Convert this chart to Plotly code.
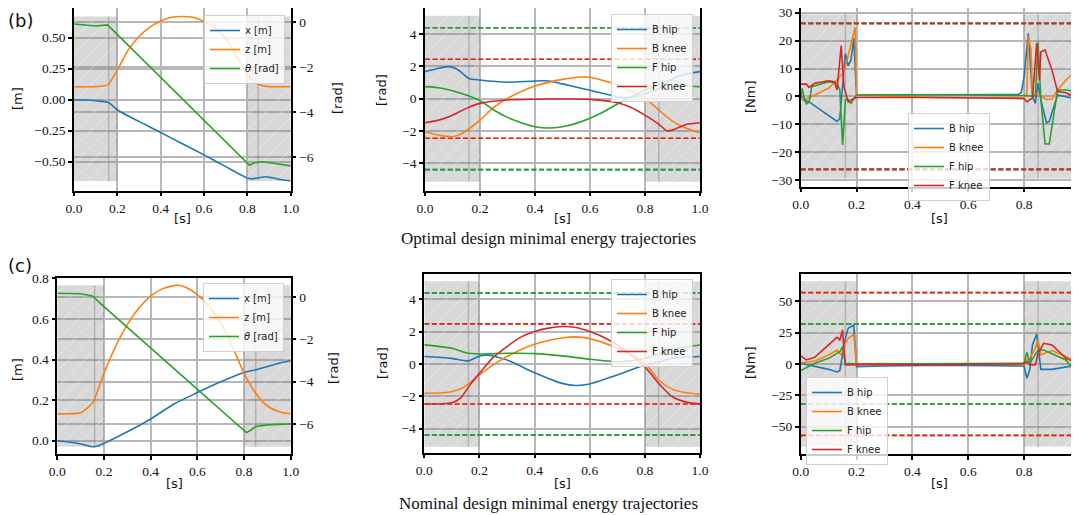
import plotly.graph_objects as go

# page is drawn with the browser's default 8px body margin -> figure is 8px smaller
OFF = 8
W, H = 1079 - OFF, 515 - OFF
BLUE, ORANGE, GREEN, RED = "#1f77b4", "#ff7f0e", "#2ca02c", "#d62728"

# ---------------- data ----------------
# contact phases (stance spans) and inner phase edges
stance_spans = [[0.0, 0.2], [0.8, 1.0]]
stance_edges = [0.16, 0.85]

# (b) optimal design - base trajectory
b_x_t = [0, 0.05, 0.1, 0.16, 0.2, 0.3, 0.4, 0.5, 0.6, 0.7, 0.8, 0.82, 0.85, 0.88, 0.92, 0.96, 1.0]
b_x_v = [0, -0.002, -0.008, -0.024, -0.083, -0.175, -0.265, -0.355, -0.445, -0.54, -0.632, -0.638, -0.632, -0.622, -0.632, -0.646, -0.656]
b_z_t = [0, 0.05, 0.1, 0.155, 0.18, 0.2, 0.25, 0.3, 0.35, 0.4, 0.45, 0.5, 0.55, 0.6, 0.65, 0.7, 0.75, 0.8, 0.85, 0.9, 0.95, 1.0]
b_z_v = [0.105, 0.104, 0.106, 0.12, 0.18, 0.24, 0.40, 0.51, 0.585, 0.635, 0.665, 0.672, 0.665, 0.63, 0.58, 0.50, 0.35, 0.20, 0.125, 0.105, 0.105, 0.105]
b_th_t = [0, 0.05, 0.1, 0.155, 0.2, 0.4, 0.6, 0.8, 0.81, 0.83, 0.87, 0.92, 1.0]
b_th_v = [-0.09, -0.15, -0.18, -0.13, -0.56, -2.46, -4.36, -6.25, -6.35, -6.25, -6.2, -6.26, -6.38]

# (b) joint angles
b_ang_bhip_t = [0, 0.05, 0.09, 0.12, 0.16, 0.2, 0.3, 0.4, 0.45, 0.5, 0.6, 0.7, 0.73, 0.78, 0.85, 0.9, 0.95, 1.0]
b_ang_bhip_v = [1.68, 1.89, 1.99, 1.8, 1.26, 1.16, 1.02, 1.1, 1.1, 0.92, 0.52, 0.12, 0.06, 0.19, 0.64, 1.22, 1.53, 1.68]
b_ang_bknee_t = [0, 0.05, 0.1, 0.13, 0.17, 0.2, 0.25, 0.3, 0.4, 0.5, 0.57, 0.6, 0.7, 0.8, 0.85, 0.9, 0.95, 1.0]
b_ang_bknee_v = [-2.05, -2.26, -2.36, -2.2, -1.74, -1.33, -0.54, 0.02, 0.79, 1.2, 1.35, 1.33, 0.85, 0.02, -0.7, -1.39, -1.84, -2.11]
b_ang_fhip_t = [0, 0.05, 0.1, 0.15, 0.2, 0.25, 0.3, 0.35, 0.4, 0.45, 0.5, 0.55, 0.6, 0.65, 0.7, 0.75, 0.8, 0.85, 0.88, 0.9, 0.95, 1.0]
b_ang_fhip_v = [0.75, 0.68, 0.5, 0.23, -0.12, -0.7, -1.16, -1.49, -1.74, -1.82, -1.74, -1.53, -1.22, -0.81, -0.33, 0.12, 0.54, 0.85, 1.12, 1.16, 0.82, 0.75]
b_ang_fknee_t = [0, 0.05, 0.1, 0.15, 0.2, 0.3, 0.4, 0.5, 0.6, 0.7, 0.75, 0.8, 0.85, 0.88, 0.9, 0.95, 1.0]
b_ang_fknee_v = [-1.49, -1.33, -1.02, -0.6, -0.29, -0.08, -0.03, -0.02, -0.04, -0.25, -0.54, -1.02, -1.58, -1.99, -1.95, -1.6, -1.49]
b_ang_limits = [4.4, 2.45, 4.4, 2.45]          # B hip, B knee, F hip, F knee
b_ang_shade = 5.15

# (b) joint torques
b_tau_bhip_t = [0, 0.01, 0.03, 0.13, 0.14, 0.16, 0.17, 0.18, 0.19, 0.2, 0.3, 0.5, 0.7, 0.78, 0.79, 0.8, 0.815, 0.83, 0.84, 0.85, 0.86, 0.88, 0.89, 0.92, 0.95, 0.99, 0.993]
b_tau_bhip_v = [0.5, -1.3, -2, -9, -8, 15.4, 11, 13, 20.8, 0.5, 0.6, 0.7, 0.7, 0.7, 1.4, 7, 22.6, 0, -2.5, 4.7, -1.3, -9.4, -9, 0.5, -0.1, -1.1, 0.5]
b_tau_bknee_t = [0, 0.02, 0.05, 0.1, 0.13, 0.15, 0.16, 0.175, 0.19, 0.195, 0.2, 0.5, 0.8, 0.81, 0.815, 0.825, 0.83, 0.845, 0.86, 0.88, 0.9, 0.92, 0.95, 0.99, 0.993]
b_tau_bknee_v = [-0.7, -1, 0.5, 2.9, 5.9, 8.2, 10.6, 16.6, 23.2, 24.7, 0.5, -0.5, -0.5, 1, 21.6, 16.6, -0.1, 1, 0.2, -1.1, -1, 2.3, 5.9, 9.8, 6]
b_tau_fhip_t = [0, 0.005, 0.01, 0.02, 0.03, 0.04, 0.1, 0.13, 0.14, 0.15, 0.16, 0.17, 0.18, 0.19, 0.2, 0.5, 0.8, 0.84, 0.85, 0.86, 0.875, 0.89, 0.92, 0.95, 0.99, 0.993]
b_tau_fhip_v = [-0.1, 2.9, 0.5, -2.7, -2, 3.5, 5.3, 4.7, 2.3, -17.4, -1.3, -1.1, -2.7, -0.7, 0.5, 0.6, 0.3, 0, 19.4, -1, -17.1, -17.1, 2.3, 2.3, 1.7, 2.3]
b_tau_fknee_t = [0, 0.02, 0.03, 0.05, 0.1, 0.12, 0.13, 0.145, 0.15, 0.155, 0.17, 0.18, 0.2, 0.5, 0.8, 0.81, 0.82, 0.83, 0.845, 0.855, 0.86, 0.875, 0.9, 0.92, 0.95, 0.99, 0.993]
b_tau_fknee_v = [4.4, 4.4, 3.2, 4.7, 5.6, 5.3, 2.3, 18.2, 10.6, 3.5, -2, -1.3, -0.4, -0.4, -0.8, -2, -1.2, -0.6, 19, 5.9, 16, 16.6, 9.4, 1.7, 1.3, -0.7, 2]
b_tau_limits = [26.2, 26.2, 26.2, 26.2]
b_tau_shade = 29.5

# (c) nominal design - base trajectory
c_x_t = [0, 0.05, 0.1, 0.16, 0.2, 0.3, 0.4, 0.5, 0.6, 0.7, 0.8, 0.85, 0.9, 0.95, 1.0]
c_x_v = [0, -0.006, -0.016, -0.03, -0.013, 0.044, 0.107, 0.181, 0.237, 0.29, 0.336, 0.349, 0.366, 0.382, 0.394]
c_z_t = [0, 0.05, 0.1, 0.15, 0.2, 0.25, 0.3, 0.35, 0.4, 0.45, 0.5, 0.52, 0.55, 0.6, 0.65, 0.7, 0.75, 0.8, 0.85, 0.9, 0.95, 1.0]
c_z_v = [0.132, 0.133, 0.138, 0.185, 0.333, 0.465, 0.572, 0.654, 0.712, 0.748, 0.764, 0.766, 0.756, 0.72, 0.662, 0.58, 0.465, 0.333, 0.234, 0.171, 0.143, 0.132]
c_th_t = [0, 0.1, 0.15, 0.2, 0.5, 0.81, 0.83, 0.85, 0.9, 1.0]
c_th_v = [0.19, 0.17, 0.06, -0.44, -3.38, -6.41, -6.29, -6.13, -6.05, -6.0]

# (c) joint angles
c_ang_bhip_t = [0, 0.1, 0.16, 0.2, 0.23, 0.3, 0.4, 0.5, 0.55, 0.6, 0.7, 0.8, 0.85, 0.9, 1.0]
c_ang_bhip_v = [0.46, 0.35, 0.19, 0.5, 0.54, 0.25, -0.54, -1.2, -1.33, -1.24, -0.68, -0.06, 0.12, 0.35, 0.46]
c_ang_bknee_t = [0, 0.1, 0.15, 0.2, 0.25, 0.3, 0.4, 0.5, 0.55, 0.6, 0.7, 0.8, 0.85, 0.9, 0.95, 1.0]
c_ang_bknee_v = [-1.82, -1.72, -1.37, -0.68, -0.06, 0.46, 1.22, 1.61, 1.68, 1.57, 0.97, 0.04, -0.99, -1.57, -1.78, -1.86]
c_ang_fhip_t = [0, 0.1, 0.15, 0.2, 0.3, 0.4, 0.5, 0.6, 0.7, 0.75, 0.8, 0.85, 0.9, 1.0]
c_ang_fhip_v = [1.18, 0.97, 0.7, 0.62, 0.66, 0.64, 0.5, 0.29, 0.14, 0.19, 0.35, 0.62, 0.91, 1.18]
c_ang_fknee_t = [0, 0.1, 0.13, 0.17, 0.2, 0.25, 0.3, 0.35, 0.4, 0.45, 0.5, 0.55, 0.6, 0.65, 0.7, 0.75, 0.8, 0.85, 0.9, 0.95, 1.0]
c_ang_fknee_v = [-2.48, -2.4, -2.13, -1.2, -0.58, 0.41, 1.08, 1.66, 2.01, 2.22, 2.32, 2.26, 2.01, 1.66, 1.18, 0.56, -0.17, -1.2, -2.03, -2.36, -2.48]
c_ang_limits = [4.4, 2.48, 4.4, 2.48]
c_ang_shade = 5.12

# (c) joint torques
c_tau_bhip_t = [0, 0.05, 0.1, 0.13, 0.14, 0.16, 0.17, 0.19, 0.2, 0.3, 0.5, 0.8, 0.81, 0.82, 0.83, 0.845, 0.86, 0.9, 0.95, 0.993]
c_tau_bhip_v = [0.5, -1.6, -4.3, -6.4, -5.3, 20.5, 28.5, 31, -2.1, -1.6, -1, -1.6, -11.5, -4.8, 15.2, 24, -4.3, -4.3, -2.7, -0.8]
c_tau_bknee_t = [0, 0.05, 0.1, 0.13, 0.145, 0.16, 0.17, 0.19, 0.2, 0.5, 0.8, 0.81, 0.82, 0.84, 0.85, 0.86, 0.9, 0.95, 0.993]
c_tau_bknee_v = [1, 2.4, 7.2, 11.2, 7.2, 16.5, 20.5, 23.7, 0.5, 0, -0.5, 3.2, 4.5, 12.5, 19.2, 7.2, 10.7, 5.9, 1]
c_tau_fhip_t = [0, 0.05, 0.1, 0.14, 0.15, 0.16, 0.2, 0.5, 0.8, 0.81, 0.82, 0.85, 0.87, 0.95, 0.993]
c_tau_fhip_v = [-5.3, 0.5, 4.5, 9.9, 13.9, 0.5, 0, 0, 0.5, 9.3, 0.5, 11.2, 11.2, 3.2, -9.6]
c_tau_fknee_t = [0, 0.02, 0.05, 0.1, 0.13, 0.14, 0.15, 0.155, 0.16, 0.2, 0.5, 0.8, 0.81, 0.82, 0.84, 0.85, 0.87, 0.9, 0.95, 0.97, 0.993]
c_tau_fknee_v = [6.4, 3.2, 5.3, 15.2, 21.3, 19.2, 27.2, 10, -0.8, -0.5, -0.5, 0.2, 1.9, -0.8, -0.8, 8.5, 16.5, 15.2, 4.5, 2.7, 7.2]
c_tau_limits = [32, 57, 32, 57]
c_tau_shade = 66

joint_names = ["B hip", "B knee", "F hip", "F knee"]
joint_colors = [BLUE, ORANGE, GREEN, RED]

# ---------------- figure ----------------
fig = go.Figure()
LW = 1.6


def shading(xa, ya, lo, hi):
    for a, b in stance_spans:
        fig.add_trace(go.Scatter(
            x=[a, b, b, a, a], y=[lo, lo, hi, hi, lo], mode="lines", fill="toself",
            fillpattern=dict(shape="/", bgcolor="rgba(128,128,128,0.30)", fgcolor="#ffffff",
                             fgopacity=0.45, size=11, solidity=0.08),
            line=dict(width=0), xaxis=xa, yaxis=ya, showlegend=False, hoverinfo="skip"))
    for e in stance_edges:
        fig.add_trace(go.Scatter(x=[e, e], y=[lo, hi], mode="lines",
                                 line=dict(color="rgba(110,110,110,0.35)", width=1.5),
                                 xaxis=xa, yaxis=ya, showlegend=False, hoverinfo="skip"))


def limits(xa, ya, lims):
    for lim, col in zip(lims, joint_colors):
        for s in (1, -1):
            fig.add_trace(go.Scatter(x=[0, 1], y=[s * lim, s * lim], mode="lines",
                                     line=dict(color=col, width=LW, dash="5px,2.6px"),
                                     xaxis=xa, yaxis=ya, showlegend=False, hoverinfo="skip"))


def series(xa, ya, t, v, name, col, leg, shape="linear"):
    fig.add_trace(go.Scatter(x=t, y=v, mode="lines", name=name,
                             line=dict(color=col, width=LW, shape=shape, smoothing=0.7),
                             xaxis=xa, yaxis=ya, legend=leg))


# panel (b) base
lo_b = min(b_x_v + b_z_v)
hi_b = max(b_x_v + b_z_v)
shading("x", "y", lo_b, hi_b)
series("x", "y", b_x_t, b_x_v, "x [m]", BLUE, "legend", "spline")
series("x", "y", b_z_t, b_z_v, "z [m]", ORANGE, "legend", "spline")
series("x", "y2", b_th_t, b_th_v, "<i>θ</i> [rad]", GREEN, "legend")

# panel (b) angles
shading("x2", "y3", -b_ang_shade, b_ang_shade)
limits("x2", "y3", b_ang_limits)
for (t, v), n, c in zip([(b_ang_bhip_t, b_ang_bhip_v), (b_ang_bknee_t, b_ang_bknee_v),
                         (b_ang_fhip_t, b_ang_fhip_v), (b_ang_fknee_t, b_ang_fknee_v)],
                        joint_names, joint_colors):
    series("x2", "y3", t, v, n, c, "legend2", "spline")

# panel (b) torques
shading("x3", "y4", -b_tau_shade, b_tau_shade)
limits("x3", "y4", b_tau_limits)
for (t, v), n, c in zip([(b_tau_bhip_t, b_tau_bhip_v), (b_tau_bknee_t, b_tau_bknee_v),
                         (b_tau_fhip_t, b_tau_fhip_v), (b_tau_fknee_t, b_tau_fknee_v)],
                        joint_names, joint_colors):
    series("x3", "y4", t, v, n, c, "legend3")

# panel (c) base
lo_c = min(c_x_v + c_z_v)
hi_c = max(c_x_v + c_z_v)
shading("x4", "y5", lo_c, hi_c)
series("x4", "y5", c_x_t, c_x_v, "x [m]", BLUE, "legend4", "spline")
series("x4", "y5", c_z_t, c_z_v, "z [m]", ORANGE, "legend4", "spline")
series("x4", "y6", c_th_t, c_th_v, "<i>θ</i> [rad]", GREEN, "legend4")

# panel (c) angles
shading("x5", "y7", -c_ang_shade, c_ang_shade)
limits("x5", "y7", c_ang_limits)
for (t, v), n, c in zip([(c_ang_bhip_t, c_ang_bhip_v), (c_ang_bknee_t, c_ang_bknee_v),
                         (c_ang_fhip_t, c_ang_fhip_v), (c_ang_fknee_t, c_ang_fknee_v)],
                        joint_names, joint_colors):
    series("x5", "y7", t, v, n, c, "legend5", "spline")

# panel (c) torques
shading("x6", "y8", -c_tau_shade, c_tau_shade)
limits("x6", "y8", c_tau_limits)
for (t, v), n, c in zip([(c_tau_bhip_t, c_tau_bhip_v), (c_tau_bknee_t, c_tau_bknee_v),
                         (c_tau_fhip_t, c_tau_fhip_v), (c_tau_fknee_t, c_tau_fknee_v)],
                        joint_names, joint_colors):
    series("x6", "y8", t, v, n, c, "legend6")

# ---------------- layout ----------------
TICKFONT = dict(family="Liberation Serif", size=13.5, color="#111")
GRID = "#b8b8b8"


def clamp(v):
    return max(0.0, min(1.0, v))


def fx(px):
    return (px - OFF) / W


def fy(py):
    return 1 - (py - OFF) / H


def xax(px0, px1, anchor, rng):
    return dict(domain=[clamp(fx(px0)), clamp(fx(px1))], anchor=anchor, range=rng, tick0=0, dtick=0.2,
                tickformat=".1f", showline=True, linecolor="black", linewidth=1.5, mirror=True,
                ticks="outside", ticklen=4, tickwidth=1.5, tickcolor="black", automargin=False,
                ticklabeloverflow="allow",
                showgrid=True, gridcolor=GRID, gridwidth=1.5, zeroline=False, tickfont=TICKFONT)


def yax(py0, py1, anchor, rng, dtick, fmt, side="left", overlaying=None, mirror=True):
    d = dict(domain=[clamp(fy(py1)), clamp(fy(py0))], anchor=anchor, range=rng, tick0=0, dtick=dtick,
             tickformat=fmt, showline=True, linecolor="black", linewidth=1.5, mirror=mirror,
             ticks="outside", ticklen=4, tickwidth=1.5, tickcolor="black", side=side,
             automargin=False, ticklabeloverflow="allow",
             showgrid=True, gridcolor=GRID, gridwidth=1.5, zeroline=False, tickfont=TICKFONT)
    if overlaying:
        d["overlaying"] = overlaying
    return d


def legend(px, py, anchor):
    return dict(x=fx(px), y=fy(py), xanchor=anchor, yanchor="top",
                bgcolor="rgba(255,255,255,0.8)", bordercolor="#d0d0d0", borderwidth=1,
                font=dict(family="DejaVu Sans", size=10, color="#222"), itemwidth=30,
                tracegroupgap=0)


fig.update_layout(
    width=W, height=H, margin=dict(l=0, r=0, t=0, b=0, autoexpand=False),
    paper_bgcolor="white", plot_bgcolor="rgba(0,0,0,0)",
    xaxis=xax(74, 290.7, "y", [0, 1]),
    yaxis=yax(8, 190.7, "x", [-0.734, 0.74], 0.25, ".2f"),
    yaxis2=yax(8, 190.7, "x", [-7.48, 0.62], 2, "d", side="right", overlaying="y", mirror=False),
    xaxis2=xax(425, 700, "y3", [0, 1]),
    yaxis3=yax(8, 190.7, "x2", [-5.71, 5.63], 2, "d"),
    xaxis3=xax(800.7, 1078, "y4", [0, 0.993]),
    yaxis4=yax(8.3, 186.7, "x3", [-32.4, 31.6], 10, "d"),
    xaxis4=xax(57.3, 290.7, "y5", [0, 1]),
    yaxis5=yax(278.3, 454, "x4", [-0.0655, 0.8], 0.2, ".1f"),
    yaxis6=yax(278.3, 454, "x4", [-7.43, 0.9], 2, "d", side="right", overlaying="y5", mirror=False),
    xaxis5=xax(424.3, 700, "y7", [0, 1]),
    yaxis7=yax(274.3, 452.7, "x5", [-5.49, 5.55], 2, "d"),
    xaxis6=xax(800.7, 1078, "y8", [0, 0.993]),
    yaxis8=yax(274.3, 454, "x6", [-71.9, 71.6], 25, "d"),
    legend=legend(285, 15, "right"),
    legend2=legend(693, 14, "right"),
    legend3=legend(908, 113, "left"),
    legend4=legend(284, 283, "right"),
    legend5=legend(693, 279, "right"),
    legend6=legend(806, 377, "left"),
)

SANS = dict(family="DejaVu Sans", size=13, color="#111")
ann = []


def label(text, px, py, angle=0, font=SANS):
    ann.append(dict(text=text, x=fx(px), y=fy(py), xref="paper", yref="paper",
                    showarrow=False, textangle=angle, font=font, xanchor="center", yanchor="middle"))


for cx, cy in [(182, 218), (562, 218), (939, 218), (174, 483), (562, 483), (939, 483)]:
    label("[s]", cx, cy)
label("[m]", 17, 99, -90)
label("[rad]", 337, 98, -90)
label("[rad]", 382, 90, -90)
label("[Nm]", 750, 97, -90)
label("[m]", 17, 370, -90)
label("[rad]", 333, 368, -90)
label("[rad]", 382, 363, -90)
label("[Nm]", 750, 363, -90)
label("(b)", 20, 20, 0, dict(family="DejaVu Sans", size=18, color="#111"))
label("(c)", 20, 265, 0, dict(family="DejaVu Sans", size=18, color="#111"))
CAP = dict(family="Liberation Serif", size=17, color="#111")
label("Optimal design minimal energy trajectories", 548, 238, 0, CAP)
label("Nominal design minimal energy trajectories", 548, 503, 0, CAP)
fig.update_layout(annotations=ann)

fig.write_html("out.html")
